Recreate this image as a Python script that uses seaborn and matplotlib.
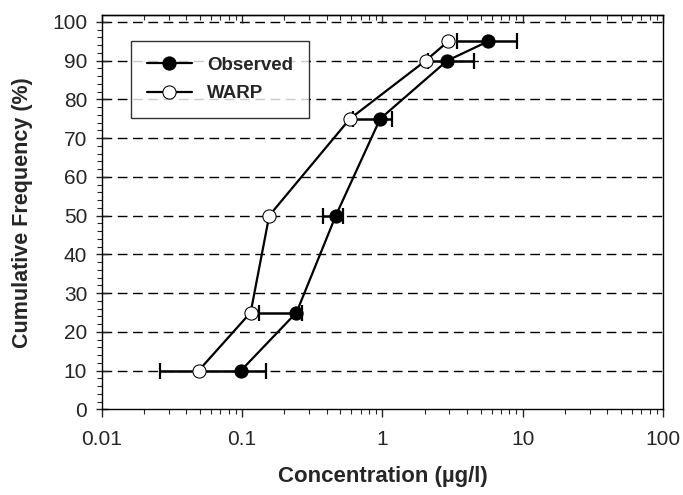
import matplotlib
matplotlib.use("Agg")
import matplotlib.pyplot as plt
import matplotlib.ticker as mticker
import seaborn as sns
import pandas as pd
import numpy as np

# cumulative frequency levels (%)
freq = [10, 25, 50, 75, 90, 95]

# observed concentrations (ug/l) with lower / upper bounds
observed = [0.098, 0.244, 0.465, 0.963, 2.89, 5.67]
obs_low = [0.026, 0.132, 0.378, 0.62, 2.1, 3.37]
obs_high = [0.148, 0.268, 0.525, 1.16, 4.48, 9.03]

# WARP model
warp = [0.049, 0.115, 0.156, 0.586, 2.03, 2.94]

df = pd.DataFrame({"Frecuencia": freq, "Observed": observed, "WARP": warp})

sns.set_style("ticks")
plt.rcParams["font.family"] = ["Liberation Sans", "DejaVu Sans"]

fig, ax = plt.subplots(figsize=(6.83, 4.95), dpi=100)
fig.subplots_adjust(left=0.149, right=0.971, bottom=0.173, top=0.969)

# lineas de cuadricula
for yv in range(10, 101, 10):
    ax.axhline(yv, color="black", lw=1.0, dashes=(7, 4), zorder=0)

xerr = [np.array(observed) - np.array(obs_low), np.array(obs_high) - np.array(observed)]
ax.errorbar(observed, freq, xerr=xerr, fmt="none", ecolor="black",
            elinewidth=1.8, capsize=6, capthick=1.6, zorder=2)

sns.lineplot(data=df, x="Observed", y="Frecuencia", sort=False, ax=ax,
             color="black", lw=1.6, marker="o", markersize=9.5,
             markerfacecolor="black", markeredgecolor="black",
             label="Observed", zorder=3)
sns.lineplot(data=df, x="WARP", y="Frecuencia", sort=False, ax=ax,
             color="black", lw=1.6, marker="o", markersize=9.5,
             markerfacecolor="white", markeredgecolor="black",
             label="WARP", zorder=4)

ax.set_xscale("log")
ax.set_xlim(0.01, 100)
ax.set_ylim(0, 101.7)
ax.set_yticks(range(0, 101, 10))
ax.yaxis.set_minor_locator(mticker.MultipleLocator(2))
ax.xaxis.set_major_formatter(mticker.FuncFormatter(lambda v, p: f"{v:g}"))
ax.xaxis.set_minor_formatter(mticker.NullFormatter())

ax.tick_params(axis="x", which="major", direction="out", length=6, width=1, labelsize=15, pad=9)
ax.tick_params(axis="x", which="minor", direction="out", length=3.5, width=0.8)
ax.tick_params(axis="y", which="major", direction="inout", length=9, width=1, labelsize=15, pad=6)
ax.tick_params(axis="y", which="minor", direction="out", length=3.5, width=0.8)

top = ax.secondary_xaxis("top")
top.set_xscale("log")
top.tick_params(which="major", direction="in", length=6, width=1, labeltop=False)
top.tick_params(which="minor", direction="in", length=3.5, width=0.8)
top.xaxis.set_minor_formatter(mticker.NullFormatter())
top.xaxis.set_major_formatter(mticker.NullFormatter())

for s in ax.spines.values():
    s.set_color("black")
    s.set_linewidth(1.0)
top.spines["top"].set_linewidth(1.0)

ax.set_xlabel("Concentration (\u00b5g/l)", fontsize=16, fontweight="bold", labelpad=12)
ax.set_ylabel("Cumulative Frequency (%)", fontsize=15.5, fontweight="bold", labelpad=14)

leg = ax.legend(loc="upper left", bbox_to_anchor=(0.052, 0.935), borderaxespad=0,
                prop={"weight": "bold", "size": 13.5}, frameon=True,
                fancybox=False, edgecolor="black", handlelength=2.4,
                borderpad=0.85, labelspacing=0.6)
leg.get_frame().set_linewidth(1.0)

fig.savefig("out.png", dpi=100)
